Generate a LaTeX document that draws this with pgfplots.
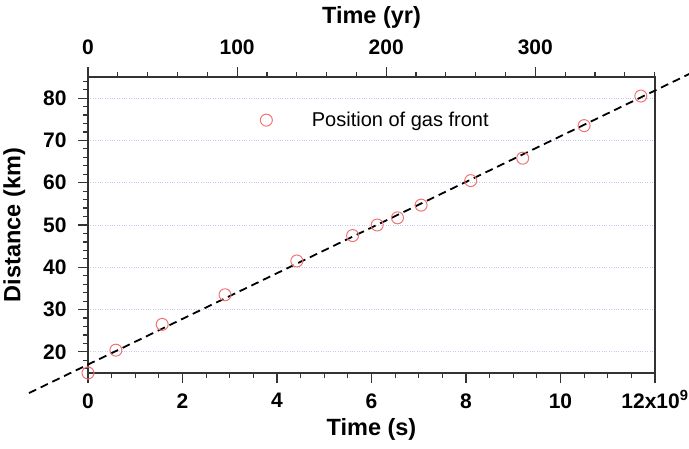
\documentclass[border=0pt]{standalone}
\usepackage{fontspec}
\setmainfont{Liberation Sans}
\usepackage{pgfplots}
\pgfplotsset{compat=1.18}
\definecolor{markred}{HTML}{F07474}
\definecolor{gridblue}{HTML}{C8C8EE}
\definecolor{axisgray}{HTML}{333333}

\begin{document}
\begin{tikzpicture}
\pgfplotsset{
  every axis/.append style={
    scale only axis, width=567pt, height=296pt,
    axis line style={axisgray, line width=1.4pt},
    every tick/.style={axisgray, line width=1.2pt},
    major tick length=10pt, minor tick length=5pt,
    tick align=outside,
    tick label style={font=\fontsize{21}{21}\selectfont\bfseries,
      /pgf/number format/assume math mode=true},
    label style={font=\fontsize{23.5}{23.5}\selectfont\bfseries},
  }
}
% main axis: distance vs time in seconds
\begin{axis}[
    name=main,
    xmin=0, xmax=12, ymin=15, ymax=85,
    xtick={0,2,...,12},
    xticklabels={0,2,4,6,8,10,12x10\smash{\textsuperscript{9}}},
    minor x tick num=3,
    ytick={20,30,...,80},
    minor ytick={16,18,...,84},
    xtick pos=bottom, ytick pos=left,
    xticklabel shift=7pt, yticklabel shift=8pt,
    xlabel shift=3pt, ylabel shift=11pt,
    ymajorgrids,
    grid style={gridblue, dotted, line width=1pt},
    xlabel={Time (s)},
    ylabel={Distance (km)},
    clip=false,
    legend style={draw=none, fill=none, at={(axis cs:3.58,74.8)}, anchor=west,
      font=\fontsize{20}{20}\selectfont},
    legend image code/.code={\draw[#1] plot coordinates {(0pt,0pt)}; \path (43pt,0pt);},
]
\addplot[black, dashed, line width=1.8pt, dash pattern=on 8pt off 5pt, forget plot]
  coordinates {(-1.25,10.25) (12.75,85.85)};
\addplot[only marks, mark=o, mark size=6pt, markred, line width=1pt]
  coordinates {
    (0.00,15.0) (0.59,20.4) (1.57,26.5) (2.90,33.5) (4.42,41.5)
    (5.60,47.5) (6.12,50.0) (6.55,51.7) (7.05,54.7) (8.10,60.5)
    (9.20,65.8) (10.50,73.5) (11.70,80.5)
  };
\addlegendentry{Position of gas front}
\end{axis}
% top axis: time in years
\begin{axis}[
    xmin=0, xmax=380.26, ymin=15, ymax=85,
    axis x line*=top, axis y line=none,
    xtick={0,100,200,300},
    minor xtick={20,40,...,380},
    xticklabel shift=9pt, xlabel shift=4pt,
    xlabel={Time (yr)},
]
\end{axis}
\pgfresetboundingbox
\path[use as bounding box] (main.south west) ++(-88pt,-75pt) rectangle ++(689pt,448pt);
\end{tikzpicture}
\end{document}
